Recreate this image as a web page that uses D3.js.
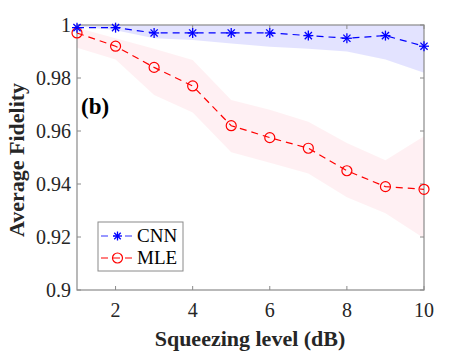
<!DOCTYPE html>
<html><head><meta charset="utf-8">
<script src="https://cdn.jsdelivr.net/npm/d3@7"></script>
<style>body{margin:0;background:#fff}svg{display:block}text{font-family:"Liberation Serif","Times New Roman",Times,serif}</style>
</head><body>
<script>
const levels = [1,2,3,4,5,6,7,8,9,10];
const cnnMean = [0.999,0.999,0.997,0.997,0.997,0.997,0.996,0.995,0.996,0.992];
const cnnUpper = [1,1,1,1,1,1,1,1,1,1];
const cnnLower = [0.9995,0.998,0.995,0.9943,0.993,0.9918,0.991,0.990,0.987,0.982];
const mleMean = [0.997,0.992,0.984,0.977,0.962,0.9575,0.9535,0.945,0.939,0.938];
const mleUpper = [0.999,0.995,0.991,0.9868,0.9717,0.968,0.9635,0.9555,0.949,0.958];
const mleLower = [0.9914,0.987,0.9736,0.967,0.952,0.948,0.944,0.935,0.929,0.9195];
const xTicks = [2,4,6,8,10];
const yTicks = [0.9,0.92,0.94,0.96,0.98,1];

const W=469,H=352;
const svg=d3.select("body").append("svg").attr("width",W).attr("height",H);
const x=d3.scaleLinear().domain([1,10]).range([77,424]);
const y=d3.scaleLinear().domain([0.9,1]).range([290,25]);

// bands
const area=(lo,hi)=>d3.area().x((d,i)=>x(levels[i])).y0((d,i)=>y(lo[i])).y1((d,i)=>y(hi[i]));
svg.append("path").attr("d",area(mleLower,mleUpper)(levels)).attr("fill","#ff0030").attr("fill-opacity",0.06);
svg.append("path").attr("d",area(cnnLower,cnnUpper)(levels)).attr("fill","#0000ff").attr("fill-opacity",0.11);

// axes box
const ac="#8a8a8a";
const g=svg.append("g");
g.append("rect").attr("x",x(1)).attr("y",y(1)).attr("width",x(10)-x(1)).attr("height",y(0.9)-y(1))
 .attr("fill","none").attr("stroke",ac).attr("stroke-width",1.2);
const tl=4;
xTicks.forEach(t=>{
  g.append("line").attr("x1",x(t)).attr("x2",x(t)).attr("y1",y(0.9)).attr("y2",y(0.9)-tl).attr("stroke",ac);
  g.append("line").attr("x1",x(t)).attr("x2",x(t)).attr("y1",y(1)).attr("y2",y(1)+tl).attr("stroke",ac);
  svg.append("text").attr("x",x(t)).attr("y",317).attr("text-anchor","middle")
   .attr("font-size",20).attr("fill","#262626").text(t);
});
yTicks.forEach(t=>{
  g.append("line").attr("x1",x(1)).attr("x2",x(1)+tl).attr("y1",y(t)).attr("y2",y(t)).attr("stroke",ac);
  g.append("line").attr("x1",x(10)).attr("x2",x(10)-tl).attr("y1",y(t)).attr("y2",y(t)).attr("stroke",ac);
  svg.append("text").attr("x",71).attr("y",y(t)+7).attr("text-anchor","end")
   .attr("font-size",20).attr("fill","#262626").text(d3.format("")(t));
});

// lines
const line=vals=>d3.line().x((d,i)=>x(levels[i])).y((d,i)=>y(vals[i]))(levels);
svg.append("path").attr("d",line(mleMean)).attr("fill","none").attr("stroke","#ff0000").attr("stroke-width",1.2).attr("stroke-dasharray","7,5");
svg.append("path").attr("d",line(cnnMean)).attr("fill","none").attr("stroke","#0000ff").attr("stroke-width",1.2).attr("stroke-dasharray","7,5");

function star(sel,cx,cy,r){
  const gg=sel.append("g").attr("stroke","#0000ff").attr("stroke-width",1.3);
  [[0,r],[r,0],[0.72*r,0.72*r],[0.72*r,-0.72*r]].forEach(([dx,dy])=>{
    gg.append("line").attr("x1",cx-dx).attr("y1",cy-dy).attr("x2",cx+dx).attr("y2",cy+dy);
  });
}
function circ(sel,cx,cy){
  sel.append("circle").attr("cx",cx).attr("cy",cy).attr("r",5).attr("fill","none").attr("stroke","#ff0000").attr("stroke-width",1.2);
}
levels.forEach((l,i)=>circ(svg,x(l),y(mleMean[i])));
levels.forEach((l,i)=>star(svg,x(l),y(cnnMean[i]),5));

// (b)
svg.append("text").attr("x",81).attr("y",114).attr("font-weight","bold").attr("font-size",23).attr("fill","#000").text("(b)");

// legend
const lg=svg.append("g");
lg.append("rect").attr("x",98).attr("y",222).attr("width",85).attr("height",49).attr("fill","#fff").attr("stroke","#8a8a8a").attr("stroke-width",1);
[[236,"CNN","#0000ff"],[258,"MLE","#ff0000"]].forEach(([yy,lab,c],k)=>{
  lg.append("line").attr("x1",101).attr("x2",134).attr("y1",yy).attr("y2",yy).attr("stroke",c).attr("stroke-width",1.2).attr("stroke-dasharray","7,5").attr("opacity",k==0?0.8:1);
  if(k==0) star(lg,117.5,yy,4.5); else circ(lg,117.5,yy);
  lg.append("text").attr("x",137).attr("y",yy+6).attr("font-size",19).attr("fill","#000").text(lab);
});

// axis labels
svg.append("text").attr("x",250).attr("y",346).attr("text-anchor","middle").attr("font-weight","bold").attr("font-size",22).attr("fill","#262626").text("Squeezing level (dB)");
svg.append("text").attr("transform","translate(24,160) rotate(-90)").attr("text-anchor","middle").attr("font-weight","bold").attr("font-size",22).attr("fill","#262626").text("Average Fidelity");
</script>
</body></html>
